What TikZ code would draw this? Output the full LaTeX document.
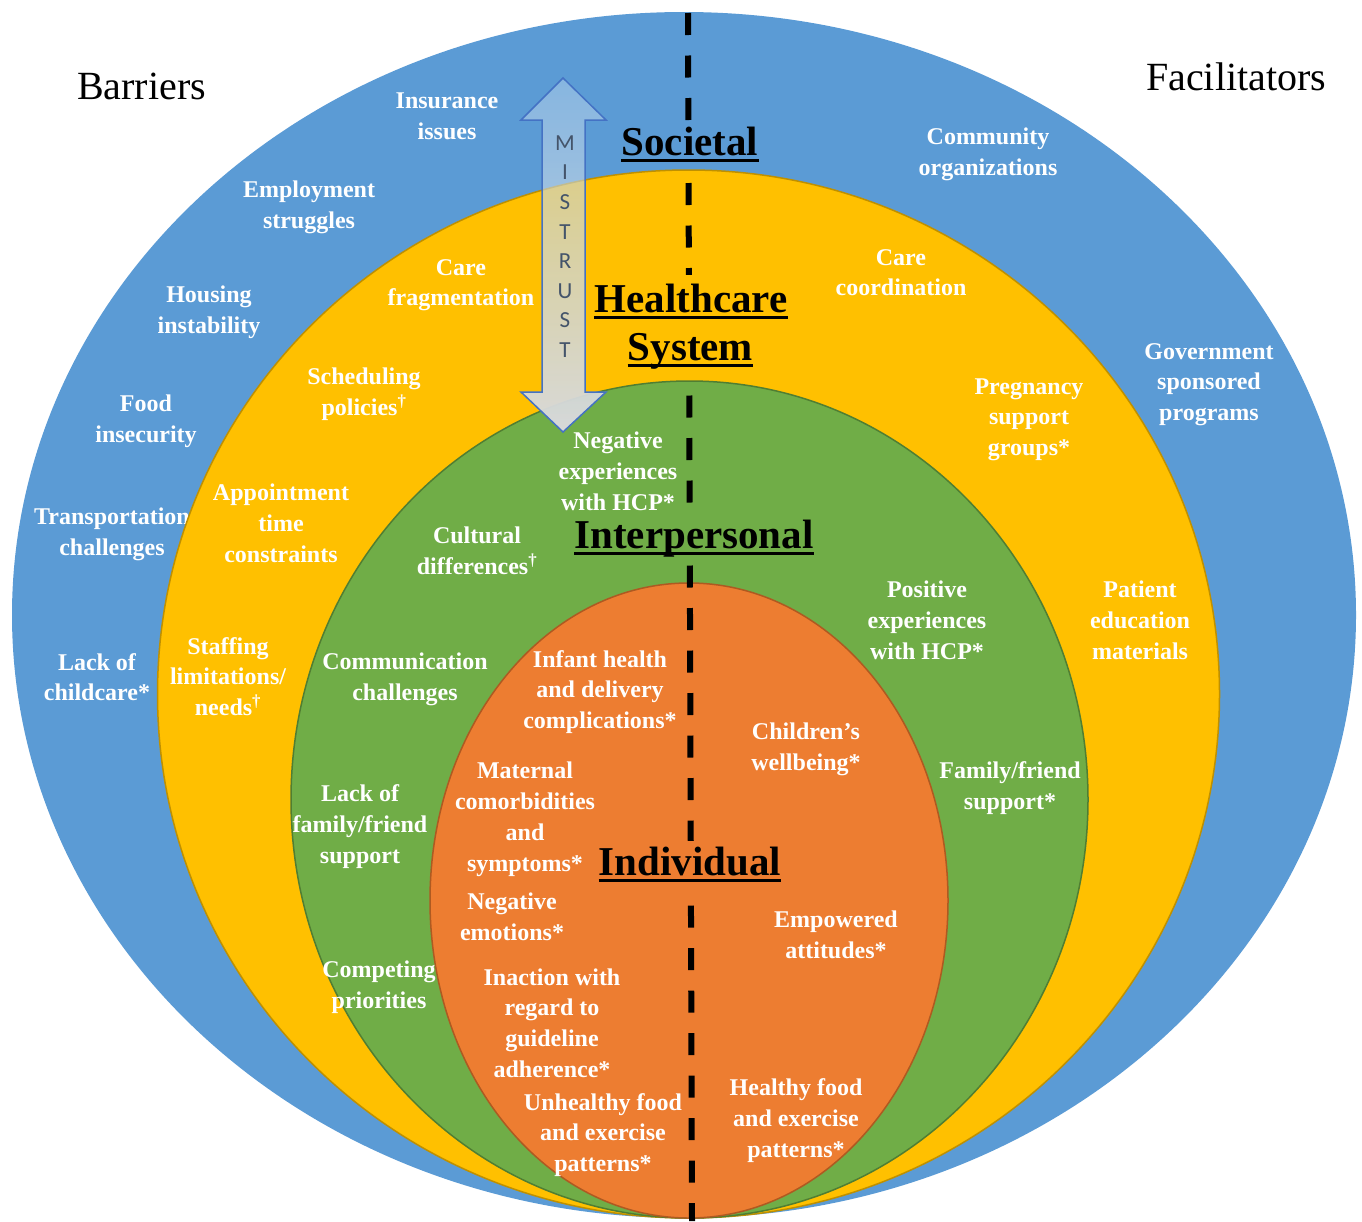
\documentclass[tikz,border=0pt]{standalone}
\usepackage{fontspec}
\setmainfont{Liberation Serif}
\newfontfamily\mistrustfont{Carlito}
\usetikzlibrary{fadings}
\definecolor{lblue}{HTML}{5B9BD5}
\definecolor{lyellow}{HTML}{FFC000}
\definecolor{lgreen}{HTML}{70AD47}
\definecolor{lorange}{HTML}{ED7D31}
\definecolor{yedge}{HTML}{BF9000}
\definecolor{gedge}{HTML}{507E32}
\definecolor{oedge}{HTML}{AE5A21}
\definecolor{arrowedge}{HTML}{4472C4}
\definecolor{arrowtop}{HTML}{BDD7EE}
\definecolor{arrowbot}{HTML}{D9D9D9}
\definecolor{mistext}{HTML}{44546A}
\tikzfading[name=arrowfade, top color=transparent!55, bottom color=transparent!0]
\newcommand\mistrustarrow{(563,78) -- (606,120) -- (585,120) -- (585,392) -- (606,392) -- (563,432) -- (521,392) -- (542,392) -- (542,120) -- (521,120) -- cycle}
\begin{document}
\begin{tikzpicture}[x=1pt,y=-1pt,
  lbl/.style={text=white, font=\fontsize{24}{30.8}\selectfont\bfseries, align=center, inner sep=0pt, text depth=0pt},
  head/.style={text=black, font=\fontsize{41}{48}\selectfont\bfseries, inner xsep=0pt, inner ysep=6pt, text depth=8pt, anchor=base},
  uline/.style={line width=3pt},
  side/.style={text=black, font=\fontsize{40}{48}\selectfont, anchor=base west, inner sep=0pt},
  layer/.style={line width=1.5pt}]
\useasboundingbox (0,0) rectangle (1362,1221);

% Societal layer
\fill[lblue] (684,615) ellipse [x radius=672, y radius=603];
\node[lbl] (ins) at (447,116) {Insurance\\issues};
\node[lbl] (emp) at (309,205) {Employment\\struggles};
\node[lbl] (hou) at (209,310) {Housing\\instability};
\node[lbl] (food) at (146,419) {Food\\insecurity};
\node[lbl] (trans) at (112,531.5) {Transportation\\challenges};
\node[lbl] (child) at (97,677) {Lack of\\childcare*};
\node[lbl] (comm) at (988,152) {Community\\organizations};
\node[lbl] (gov) at (1209,382) {Government\\sponsored\\programs};

% Healthcare system layer
\filldraw[fill=lyellow, draw=yedge, layer] (688.5,694) ellipse [x radius=531, y radius=524];
\node[lbl] (frag) at (461,282.5) {Care\\fragmentation};
\node[lbl] (sched) at (364,392) {Scheduling\\policies\textsuperscript{†}};
\node[lbl] (appt) at (281,523) {Appointment\\time\\constraints};
\node[lbl] (staff) at (228,676.5) {Staffing\\limitations/\\needs\textsuperscript{†}};
\node[lbl] (coord) at (901,272.5) {Care\\coordination};
\node[lbl] (preg) at (1029,417) {Pregnancy\\support\\groups*};
\node[lbl] (edu) at (1140,620) {Patient\\education\\materials};

% Interpersonal layer
\filldraw[fill=lgreen, draw=gedge, layer] (689.5,799.5) ellipse [x radius=398.5, y radius=418.5];
\node[lbl] (negx) at (618,471) {Negative\\experiences\\with HCP*};
\node[lbl] (cult) at (477,551) {Cultural\\differences\textsuperscript{†}};
\node[lbl] (commc) at (405,677) {Communication\\challenges};
\node[lbl] (lackf) at (360,824) {Lack of\\family/friend\\support};
\node[lbl] (comp) at (379,985) {Competing\\priorities};
\node[lbl] (posx) at (927,620) {Positive\\experiences\\with HCP*};
\node[lbl] (fam) at (1010,785.5) {Family/friend\\support*};

% Individual layer
\filldraw[fill=lorange, draw=oedge, layer] (689,900.5) ellipse [x radius=259, y radius=317.5];
\node[lbl] (inf) at (600,689.5) {Infant health\\and delivery\\complications*};
\node[lbl] (mat) at (525,816.5) {Maternal\\comorbidities\\and\\symptoms*};
\node[lbl] (nege) at (512,917) {Negative\\emotions*};
\node[lbl] (inac) at (552,1023) {Inaction with\\regard to\\guideline\\adherence*};
\node[lbl] (unh) at (603,1132.5) {Unhealthy food\\and exercise\\patterns*};
\node[lbl] (chw) at (806,746.5) {Children’s\\wellbeing*};
\node[lbl] (empw) at (836,934.5) {Empowered\\attitudes*};
\node[lbl] (hfood) at (796,1118) {Healthy food\\and exercise\\patterns*};

% dividing dashed line
\coordinate (dtop) at (688,13);
\coordinate (dbot) at (692,1221);
\draw[line width=6pt, dash pattern=on 22pt off 20.5pt] (dtop) -- (dbot);

% headings
\node[head, fill=lblue] (soc) at (690,155) {Societal};
\node[head, fill=lyellow, inner ysep=9pt, text depth=9pt] (hc) at (691,312) {Healthcare};
\node[head, fill=lyellow, inner ysep=9pt, text depth=9pt] (sys) at (690.5,360) {System};
\node[head, fill=lgreen] (inter) at (694,548) {Interpersonal};
\node[head, fill=lorange] (indiv) at (690,875) {Individual};
\foreach \n in {soc,hc,sys,inter,indiv}
  \draw[uline] ([yshift=-5pt]\n.base west) -- ([yshift=-5pt]\n.base east);

% side titles
\node[side] (bar) at (77,99) {Barriers};
\node[side] (fac) at (1146,90) {Facilitators};

% mistrust arrow
\shade[top color=arrowtop, bottom color=arrowbot, path fading=arrowfade] \mistrustarrow;
\draw[arrowedge, line width=1.5pt, line join=miter] \mistrustarrow;
\node[text=mistext, font=\mistrustfont\fontsize{23}{29.6}\selectfont, align=center, inner sep=0pt] (mis) at (565,246.5) {M\\I\\S\\T\\R\\U\\S\\T};
\end{tikzpicture}
\end{document}
